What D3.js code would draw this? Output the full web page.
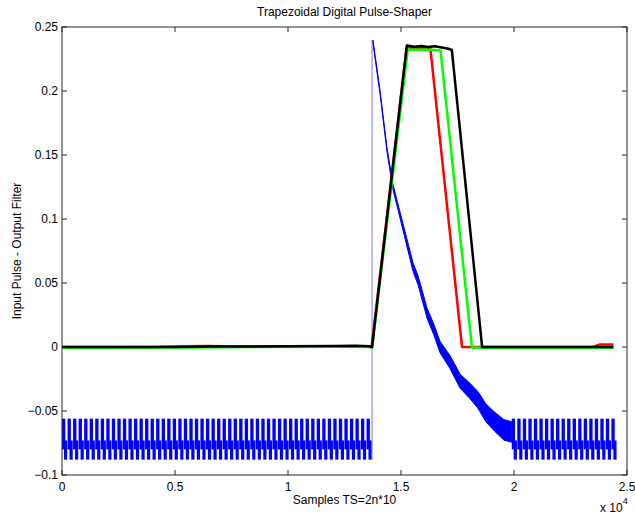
<!DOCTYPE html>
<html>
<head>
<meta charset="utf-8">
<script src="https://cdn.jsdelivr.net/npm/d3@7"></script>
<style>
  body { margin: 0; background: #fff; }
  svg text { font-family: "Liberation Sans", Arial, sans-serif; fill: #000; }
</style>
</head>
<body>
<div id="chart"></div>
<script>
var width = 635,
    height = 515;

// tick labels
var xTicks = [0, 5000, 10000, 15000, 20000, 25000];
var yTicks = [-0.1, -0.05, 0, 0.05, 0.1, 0.15, 0.2, 0.25];

// filter outputs (sample, value)
var redX   = [0, 4000, 5500, 6500, 7500, 9000, 11000, 13000, 13700, 15250, 15600, 15900, 16300, 17700, 23500, 23800, 24400];
var redY   = [0, 0, 0.0006, 0.0008, 0.0004, 0.0003, 0.0005, 0.0006, 0, 0.2342, 0.2336, 0.2340, 0.2332, 0, 0, 0.0020, 0.0020];

var greenX = [0, 6000, 9000, 12000, 13600, 13720, 15300, 15700, 16100, 16500, 16750, 18140, 24400];
var greenY = [-0.0005, -0.0004, 0, 0.0002, 0, -0.0005, 0.2325, 0.2322, 0.2324, 0.2320, 0.2316, -0.0005, -0.0005];

var blackX = [0, 5000, 6500, 8000, 10000, 12000, 13000, 13600, 13720, 15260, 15600, 15900, 16200, 16500, 16800, 17100, 17250, 18590, 24400];
var blackY = [0, 0, 0.0004, 0.0003, 0.0006, 0.0007, 0.0009, 0.0006, 0, 0.2355, 0.2346, 0.2352, 0.2343, 0.2350, 0.2340, 0.2330, 0.2320, 0, 0];

// input pulse: ripple on the baseline
var rippleStart = [0, 19900];
var rippleEnd = [13700, 24400];
var ripplePeriod = 245;
var upperBand = [-0.056, -0.080];
var lowerBand = [-0.073, -0.088];

// input pulse: step and decay (sample, mid value, half spread)
var stepX = 13720;
var stepY = [-0.088, 0.240];
var decayX   = [13760, 14071, 14381, 14646, 14867, 15088, 15310, 15531, 15752, 16150, 16460, 16726, 17168, 17611, 18053, 18407, 18761, 19159, 19558, 19900];
var decayMid = [0.2385, 0.1992, 0.1539, 0.125, 0.1094, 0.0938, 0.0781, 0.0625, 0.0523, 0.0266, 0.0133, 0, -0.0117, -0.0266, -0.0344, -0.0414, -0.0516, -0.0586, -0.0648, -0.0664];
var decaySpread = [0.0012, 0.0014, 0.0016, 0.002, 0.0022, 0.0026, 0.003, 0.0034, 0.0036, 0.004, 0.0042, 0.0045, 0.005, 0.0055, 0.006, 0.0065, 0.007, 0.0075, 0.008, 0.008];

var margin = {left: 62, right: 8, top: 27, bottom: 40};

var x = d3.scaleLinear()
    .domain([0, 25000])
    .range([margin.left, width - margin.right]);

var y = d3.scaleLinear()
    .domain([-0.1, 0.25])
    .range([height - margin.bottom, margin.top]);

var svg = d3.select("#chart").append("svg")
    .attr("width", width)
    .attr("height", height);

var plot = svg.append("g");

// blue ripple teeth
rippleStart.forEach(function(s, i) {
    var starts = d3.range(s, rippleEnd[i] - ripplePeriod * 0.3, ripplePeriod);
    plot.selectAll(null)
        .data(starts)
        .enter().append("rect")
            .attr("x", d => x(d))
            .attr("width", d => x(d + ripplePeriod * 0.6) - x(d))
            .attr("y", y(upperBand[0]))
            .attr("height", y(upperBand[1]) - y(upperBand[0]))
            .attr("fill", "#0000ff");
    plot.selectAll(null)
        .data(starts)
        .enter().append("rect")
            .attr("x", d => x(d + ripplePeriod * 0.35))
            .attr("width", d => x(d + ripplePeriod * 0.58) - x(d))
            .attr("y", y(lowerBand[0]))
            .attr("height", y(lowerBand[1]) - y(lowerBand[0]))
            .attr("fill", "#0000ff");
});

// step edge
plot.append("line")
    .attr("x1", x(stepX)).attr("x2", x(stepX))
    .attr("y1", y(stepY[0])).attr("y2", y(stepY[1]))
    .attr("stroke", "#7a7aff")
    .attr("stroke-width", 1);

// decay band
var decay = decayX.map((d, i) => ({x: d, hi: decayMid[i] + decaySpread[i], lo: decayMid[i] - decaySpread[i]}));
plot.append("path")
    .datum(decay)
    .attr("fill", "#0000ff")
    .attr("stroke", "#0000ff")
    .attr("stroke-width", 1)
    .attr("d", d3.area()
        .x(d => x(d.x))
        .y0(d => y(d.lo))
        .y1(d => y(d.hi)));

// filter outputs
var line = d3.line()
    .x(d => x(d[0]))
    .y(d => y(d[1]));

[[redX, redY, "#ff0000"], [greenX, greenY, "#00ff00"], [blackX, blackY, "#000000"]].forEach(function(s) {
    plot.append("path")
        .datum(s[0].map((d, i) => [d, s[1][i]]))
        .attr("fill", "none")
        .attr("stroke", s[2])
        .attr("stroke-width", 2.5)
        .attr("stroke-linejoin", "round")
        .attr("d", line);
});

// axes box with inward ticks
var axisColor = "#262626";
var x0 = x.range()[0], x1 = x.range()[1], y0 = y.range()[0], y1 = y.range()[1];

svg.append("rect")
    .attr("x", x0).attr("y", y1)
    .attr("width", x1 - x0).attr("height", y0 - y1)
    .attr("fill", "none")
    .attr("stroke", axisColor)
    .attr("stroke-width", 1);

var tickLen = 5;
var xt = svg.append("g").selectAll("g").data(xTicks).enter().append("g");
xt.append("line")
    .attr("x1", d => x(d)).attr("x2", d => x(d))
    .attr("y1", y0).attr("y2", y0 - tickLen)
    .attr("stroke", axisColor);
xt.append("line")
    .attr("x1", d => x(d)).attr("x2", d => x(d))
    .attr("y1", y1).attr("y2", y1 + tickLen)
    .attr("stroke", axisColor);
xt.append("text")
    .attr("x", d => x(d))
    .attr("y", y0 + 16)
    .attr("text-anchor", "middle")
    .attr("font-size", 12)
    .text(d => d3.format("~g")(d / 10000));

var yt = svg.append("g").selectAll("g").data(yTicks).enter().append("g");
yt.append("line")
    .attr("x1", x0).attr("x2", x0 + tickLen)
    .attr("y1", d => y(d)).attr("y2", d => y(d))
    .attr("stroke", axisColor);
yt.append("line")
    .attr("x1", x1).attr("x2", x1 - tickLen)
    .attr("y1", d => y(d)).attr("y2", d => y(d))
    .attr("stroke", axisColor);
yt.append("text")
    .attr("x", x0 - 4)
    .attr("y", d => y(d) + 4)
    .attr("text-anchor", "end")
    .attr("font-size", 12)
    .text(d => d3.format("~g")(d));

svg.append("text")
    .attr("x", (x0 + x1) / 2)
    .attr("y", 16)
    .attr("text-anchor", "middle")
    .attr("font-size", 12)
    .text("Trapezoidal Digital Pulse-Shaper");

svg.append("text")
    .attr("x", (x0 + x1) / 2)
    .attr("y", 504)
    .attr("text-anchor", "middle")
    .attr("font-size", 12)
    .text("Samples TS=2n*10");

svg.append("text")
    .attr("transform", "translate(21," + ((y0 + y1) / 2) + ") rotate(-90)")
    .attr("text-anchor", "middle")
    .attr("font-size", 12)
    .text("Input Pulse - Output Filter");

var exp = svg.append("text")
    .attr("x", 600)
    .attr("y", 512)
    .attr("font-size", 12);
exp.append("tspan").text("x 10");
exp.append("tspan").attr("dy", -8).attr("font-size", 9).text("4");
</script>
</body>
</html>
